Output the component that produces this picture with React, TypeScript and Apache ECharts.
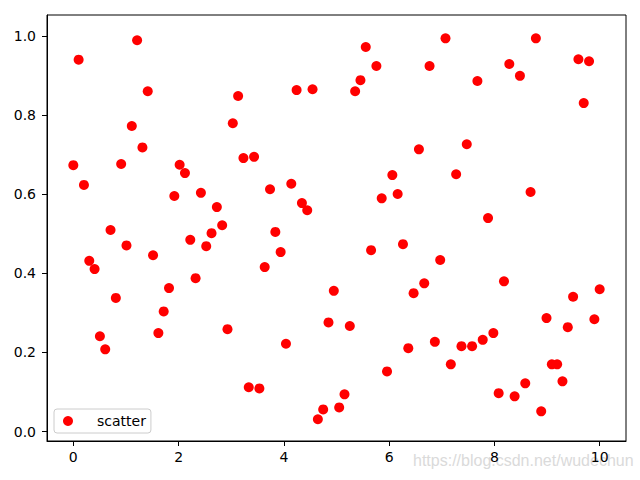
import { useRef, useEffect } from "react";
import * as echarts from "echarts";

// x = linspace(0, 10, 100)
const xValues = [
    0, 0.101, 0.202, 0.303, 0.404, 0.505, 0.606, 0.707, 0.808, 0.909,
    1.01, 1.111, 1.212, 1.313, 1.414, 1.515, 1.616, 1.717, 1.818, 1.919,
    2.02, 2.121, 2.222, 2.323, 2.424, 2.525, 2.626, 2.727, 2.828, 2.929,
    3.03, 3.131, 3.232, 3.333, 3.434, 3.535, 3.636, 3.737, 3.838, 3.939,
    4.04, 4.141, 4.242, 4.343, 4.444, 4.545, 4.646, 4.747, 4.848, 4.949,
    5.051, 5.152, 5.253, 5.354, 5.455, 5.556, 5.657, 5.758, 5.859, 5.96,
    6.061, 6.162, 6.263, 6.364, 6.465, 6.566, 6.667, 6.768, 6.869, 6.97,
    7.071, 7.172, 7.273, 7.374, 7.475, 7.576, 7.677, 7.778, 7.879, 7.98,
    8.081, 8.182, 8.283, 8.384, 8.485, 8.586, 8.687, 8.788, 8.889, 8.99,
    9.091, 9.192, 9.293, 9.394, 9.495, 9.596, 9.697, 9.798, 9.899, 10,
];

const yValues = [
    0.674, 0.941, 0.624, 0.432, 0.411, 0.241, 0.208, 0.51, 0.338, 0.677,
    0.471, 0.773, 0.99, 0.719, 0.861, 0.446, 0.249, 0.304, 0.363, 0.596,
    0.675, 0.654, 0.485, 0.388, 0.604, 0.469, 0.502, 0.568, 0.522, 0.259,
    0.78, 0.849, 0.692, 0.112, 0.695, 0.109, 0.416, 0.613, 0.505, 0.454,
    0.222, 0.627, 0.864, 0.578, 0.56, 0.866, 0.031, 0.056, 0.276, 0.356,
    0.061, 0.094, 0.267, 0.861, 0.889, 0.973, 0.459, 0.925, 0.59, 0.152,
    0.649, 0.601, 0.474, 0.211, 0.35, 0.714, 0.375, 0.925, 0.227, 0.434,
    0.995, 0.17, 0.651, 0.216, 0.727, 0.216, 0.887, 0.232, 0.54, 0.249,
    0.097, 0.38, 0.93, 0.089, 0.9, 0.122, 0.606, 0.995, 0.051, 0.287,
    0.17, 0.17, 0.127, 0.264, 0.341, 0.942, 0.831, 0.937, 0.284, 0.36,
];

const xTicks = [0, 2, 4, 6, 8, 10];
const yTicks = [0, 0.2, 0.4, 0.6, 0.8, 1.0];

const seriesName = "scatter";
const watermark = "https://blog.csdn.net/wudechun";

const FONT = "'DejaVu Sans', sans-serif";

function App() {
    const chartRef = useRef<HTMLDivElement | null>(null);

    useEffect(() => {
        if (!chartRef.current) return;
        const chart = echarts.init(chartRef.current, null, { renderer: "svg" });

        chart.setOption({
            animation: false,
            backgroundColor: "#ffffff",
            grid: {
                left: 47,
                right: 14,
                top: 15,
                bottom: 39,
                show: true,
                borderColor: "#000",
                borderWidth: 1,
                outerBoundsMode: "none",
            },
            xAxis: {
                type: "value",
                min: -0.5,
                max: 10.5,
                splitLine: { show: false },
                axisLine: { show: true, onZero: false, lineStyle: { color: "#000", width: 1 } },
                axisTick: { show: true, length: 5, customValues: xTicks, lineStyle: { color: "#000" } },
                axisLabel: {
                    customValues: xTicks,
                    margin: 9,
                    fontSize: 14,
                    fontFamily: FONT,
                    color: "#000",
                },
            },
            yAxis: {
                type: "value",
                min: -0.024,
                max: 1.054,
                splitLine: { show: false },
                axisLine: { show: true, onZero: false, lineStyle: { color: "#000", width: 1 } },
                axisTick: { show: true, length: 5, customValues: yTicks, lineStyle: { color: "#000" } },
                axisLabel: {
                    customValues: yTicks,
                    margin: 11,
                    fontSize: 14,
                    fontFamily: FONT,
                    color: "#000",
                    formatter: (v: number) => v.toFixed(1),
                },
            },
            legend: {
                left: 54,
                top: 409,
                padding: [5, 5, 5, 9],
                itemWidth: 20,
                itemHeight: 10,
                icon: "circle",
                borderColor: "#cccccc",
                borderWidth: 1,
                borderRadius: 3,
                backgroundColor: "rgba(255,255,255,0.8)",
                textStyle: {
                    fontSize: 14,
                    fontFamily: FONT,
                    color: "#000",
                    padding: [0, 0, 0, 14],
                },
                data: [seriesName],
            },
            graphic: [
                {
                    type: "text",
                    left: 413,
                    top: 452,
                    z: 0,
                    silent: true,
                    style: {
                        text: watermark,
                        fontSize: 16,
                        fontFamily: "'Liberation Sans', Arial, sans-serif",
                        fill: "#dadada",
                    },
                },
            ],
            series: [
                {
                    name: seriesName,
                    type: "scatter",
                    symbol: "circle",
                    symbolSize: 10,
                    itemStyle: { color: "#ff0000", opacity: 1 },
                    data: xValues.map((x, i) => [x, yValues[i]]),
                },
            ],
        });

        return () => {
            chart.dispose();
        };
    }, []);

    return (
        <div
            ref={chartRef}
            style={{
                position: "fixed",
                left: 0,
                top: 0,
                width: "640px",
                height: "480px",
                background: "#fff",
            }}
        />
    );
}

export default App;
